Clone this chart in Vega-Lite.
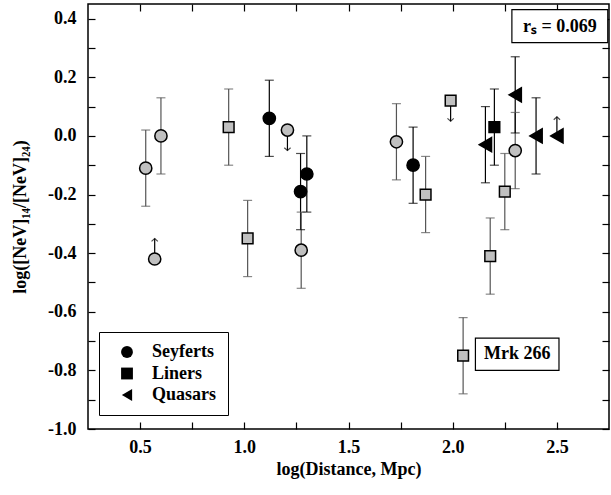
{
  "$schema": "https://vega.github.io/schema/vega-lite/v6.json",
  "width": 521,
  "height": 425,
  "autosize": {"type": "none"},
  "padding": {"left": 88, "top": 4, "right": 2, "bottom": 66},
  "background": "white",
  "config": {
    "view": {"stroke": "black", "strokeWidth": 1.5},
    "axis": {
      "grid": false, "domain": false, "tickColor": "black", "tickWidth": 1.2, "tickSize": -7,
      "labelFont": "Liberation Serif", "labelFontWeight": "bold", "labelFontSize": 18, "labelColor": "black",
      "titleFont": "Liberation Serif", "titleFontWeight": "bold", "titleFontSize": 18, "titleColor": "black"
    }
  },
  "data": {"values": [
    {"type": "Seyferts", "set": "open", "x": 0.527, "y": -0.11, "lo": -0.24, "hi": 0.02},
    {"type": "Seyferts", "set": "open", "x": 0.60, "y": 0.00, "lo": -0.13, "hi": 0.13},
    {"type": "Seyferts", "set": "filled", "x": 1.12, "y": 0.06, "lo": -0.07, "hi": 0.19},
    {"type": "Seyferts", "set": "open", "x": 1.207, "y": 0.02, "limit": "upper", "tip": -0.05},
    {"type": "Seyferts", "set": "filled", "x": 1.27, "y": -0.19, "lo": -0.32, "hi": -0.06},
    {"type": "Seyferts", "set": "filled", "x": 1.30, "y": -0.13, "lo": -0.26, "hi": 0.00},
    {"type": "Seyferts", "set": "open", "x": 0.57, "y": -0.42, "limit": "lower", "tip": -0.35},
    {"type": "Seyferts", "set": "open", "x": 1.273, "y": -0.39, "lo": -0.52, "hi": -0.26},
    {"type": "Seyferts", "set": "open", "x": 1.73, "y": -0.02, "lo": -0.15, "hi": 0.11},
    {"type": "Seyferts", "set": "filled", "x": 1.81, "y": -0.10, "lo": -0.23, "hi": 0.03},
    {"type": "Seyferts", "set": "open", "x": 2.30, "y": -0.05, "lo": -0.18, "hi": 0.08},
    {"type": "Liners", "set": "open", "x": 0.925, "y": 0.03, "lo": -0.10, "hi": 0.16},
    {"type": "Liners", "set": "open", "x": 1.016, "y": -0.35, "lo": -0.48, "hi": -0.22},
    {"type": "Liners", "set": "open", "x": 1.87, "y": -0.20, "lo": -0.33, "hi": -0.07},
    {"type": "Liners", "set": "open", "x": 1.99, "y": 0.12, "limit": "upper", "tip": 0.05},
    {"type": "Liners", "set": "filled", "x": 2.20, "y": 0.03, "lo": -0.10, "hi": 0.16},
    {"type": "Liners", "set": "open", "x": 2.25, "y": -0.19, "lo": -0.32, "hi": -0.06},
    {"type": "Liners", "set": "open", "x": 2.18, "y": -0.41, "lo": -0.54, "hi": -0.28},
    {"type": "Liners", "set": "open", "x": 2.05, "y": -0.75, "lo": -0.88, "hi": -0.62},
    {"type": "Quasars", "set": "filled", "x": 2.157, "y": -0.03, "lo": -0.16, "hi": 0.10},
    {"type": "Quasars", "set": "filled", "x": 2.30, "y": 0.14, "lo": 0.01, "hi": 0.27},
    {"type": "Quasars", "set": "filled", "x": 2.40, "y": 0.00, "lo": -0.13, "hi": 0.13},
    {"type": "Quasars", "set": "filled", "x": 2.50, "y": 0.00, "limit": "lower", "tip": 0.065}
  ]},
  "layer": [
    {
      "transform": [{"filter": "isValid(datum.lo)"}],
      "mark": {"type": "rule", "strokeWidth": 1.2},
      "encoding": {
        "x": {"field": "x", "type": "quantitative",
          "scale": {"domain": [0.25, 2.75], "nice": false, "zero": false},
          "axis": {"orient": "bottom", "values": [0.5, 0.75, 1, 1.25, 1.5, 1.75, 2, 2.25, 2.5],
            "labelExpr": "datum.value % 0.5 == 0 ? format(datum.value, '.1f') : ''",
            "labelPadding": 16, "title": "log(Distance, Mpc)", "titlePadding": 4}},
        "y": {"field": "lo", "type": "quantitative",
          "scale": {"domain": [-1, 0.45], "nice": false, "zero": false},
          "axis": {"orient": "left", "values": [-1, -0.9, -0.8, -0.7, -0.6, -0.5, -0.4, -0.3, -0.2, -0.1, 0, 0.1, 0.2, 0.3, 0.4],
            "labelExpr": "round(datum.value * 10) % 2 == 0 ? replace(format(datum.value, '.1f'), '−', '-') : ''",
            "labelPadding": 19, "title": "log([NeV]₁₄/[NeV]₂₄)", "titlePadding": 18}},
        "y2": {"field": "hi"},
        "color": {"field": "set", "type": "nominal", "scale": {"domain": ["open", "filled"], "range": ["#555555", "#000000"]}, "legend": null}
      }
    },
    {
      "transform": [{"filter": "isValid(datum.lo)"}],
      "mark": {"type": "tick", "orient": "horizontal", "size": 9, "thickness": 1.2},
      "encoding": {
        "x": {"field": "x", "type": "quantitative", "axis": null},
        "y": {"field": "lo", "type": "quantitative", "axis": null},
        "color": {"field": "set", "type": "nominal", "legend": null}
      }
    },
    {
      "transform": [{"filter": "isValid(datum.hi)"}],
      "mark": {"type": "tick", "orient": "horizontal", "size": 9, "thickness": 1.2},
      "encoding": {
        "x": {"field": "x", "type": "quantitative", "axis": null},
        "y": {"field": "hi", "type": "quantitative", "axis": null},
        "color": {"field": "set", "type": "nominal", "legend": null}
      }
    },
    {
      "transform": [{"filter": "isValid(datum.limit)"}],
      "mark": {"type": "rule", "strokeWidth": 1.2, "color": "black"},
      "encoding": {
        "x": {"field": "x", "type": "quantitative", "axis": null},
        "y": {"field": "y", "type": "quantitative", "axis": null},
        "y2": {"field": "tip"}
      }
    },
    {
      "transform": [{"filter": "datum.limit == 'upper'"}],
      "mark": {"type": "point", "filled": false, "stroke": "black", "strokeWidth": 1.2, "size": 40, "shape": "M-1,-0.9L0,0L1,-0.9"},
      "encoding": {
        "x": {"field": "x", "type": "quantitative", "axis": null},
        "y": {"field": "tip", "type": "quantitative", "axis": null}
      }
    },
    {
      "transform": [{"filter": "datum.limit == 'lower'"}],
      "mark": {"type": "point", "filled": false, "stroke": "black", "strokeWidth": 1.2, "size": 40, "shape": "M-1,0.9L0,0L1,0.9"},
      "encoding": {
        "x": {"field": "x", "type": "quantitative", "axis": null},
        "y": {"field": "tip", "type": "quantitative", "axis": null}
      }
    },
    {
      "transform": [{"filter": "datum.type == 'Seyferts'"}],
      "mark": {"type": "point", "filled": true, "stroke": "black", "strokeWidth": 1.5, "opacity": 1, "size": 150},
      "encoding": {
        "x": {"field": "x", "type": "quantitative",
          "axis": {"orient": "top", "values": [0.5, 0.75, 1, 1.25, 1.5, 1.75, 2, 2.25, 2.5], "labels": false, "title": null}},
        "y": {"field": "y", "type": "quantitative",
          "axis": {"orient": "right", "values": [-1, -0.9, -0.8, -0.7, -0.6, -0.5, -0.4, -0.3, -0.2, -0.1, 0, 0.1, 0.2, 0.3, 0.4], "labels": false, "title": null}},
        "shape": {"field": "type", "type": "nominal",
          "scale": {"domain": ["Seyferts", "Liners", "Quasars"], "range": ["circle", "square", "triangle-left"]},
          "legend": {"title": null, "orient": "none", "legendX": 11, "legendY": 328,
            "strokeColor": "black", "fillColor": "white", "padding": 11, "symbolOffset": 8,
            "symbolFillColor": "black", "symbolStrokeColor": "black", "symbolStrokeWidth": 0, "symbolSize": 140,
            "labelFont": "Liberation Serif", "labelFontWeight": "bold", "labelFontSize": 18, "labelColor": "black",
            "labelOffset": 16, "rowPadding": 3.5}},
        "fill": {"field": "set", "type": "nominal", "scale": {"domain": ["open", "filled"], "range": ["#c0c0c0", "#000000"]}, "legend": null}
      }
    },
    {
      "transform": [{"filter": "datum.type == 'Liners'"}],
      "mark": {"type": "point", "filled": true, "stroke": "black", "strokeWidth": 1.5, "opacity": 1, "size": 115},
      "encoding": {
        "x": {"field": "x", "type": "quantitative", "axis": null},
        "y": {"field": "y", "type": "quantitative", "axis": null},
        "shape": {"field": "type", "type": "nominal",
          "legend": {"title": null, "orient": "none", "legendX": 11, "legendY": 328,
            "strokeColor": "black", "fillColor": "white", "padding": 11, "symbolOffset": 8,
            "symbolFillColor": "black", "symbolStrokeColor": "black", "symbolStrokeWidth": 0, "symbolSize": 140,
            "labelFont": "Liberation Serif", "labelFontWeight": "bold", "labelFontSize": 18, "labelColor": "black",
            "labelOffset": 16, "rowPadding": 3.5}},
        "fill": {"field": "set", "type": "nominal", "legend": null}
      }
    },
    {
      "transform": [{"filter": "datum.type == 'Quasars'"}],
      "mark": {"type": "point", "filled": true, "stroke": "black", "strokeWidth": 1.5, "opacity": 1, "size": 200},
      "encoding": {
        "x": {"field": "x", "type": "quantitative", "axis": null},
        "y": {"field": "y", "type": "quantitative", "axis": null},
        "shape": {"field": "type", "type": "nominal",
          "legend": {"title": null, "orient": "none", "legendX": 11, "legendY": 328,
            "strokeColor": "black", "fillColor": "white", "padding": 11, "symbolOffset": 8,
            "symbolFillColor": "black", "symbolStrokeColor": "black", "symbolStrokeWidth": 0, "symbolSize": 140,
            "labelFont": "Liberation Serif", "labelFontWeight": "bold", "labelFontSize": 18, "labelColor": "black",
            "labelOffset": 16, "rowPadding": 3.5}},
        "fill": {"field": "set", "type": "nominal", "legend": null}
      }
    },
    {
      "data": {"values": [{"label": "Mrk 266"}]},
      "mark": {"type": "rect", "fill": "white", "stroke": "black", "strokeWidth": 1.2},
      "encoding": {
        "x": {"datum": 2.109, "type": "quantitative", "axis": null},
        "x2": {"datum": 2.51},
        "y": {"datum": -0.69, "type": "quantitative", "axis": null},
        "y2": {"datum": -0.80}
      }
    },
    {
      "data": {"values": [{"label": "Mrk 266"}]},
      "mark": {"type": "text", "font": "Liberation Serif", "fontWeight": "bold", "fontSize": 18, "color": "black", "align": "center", "baseline": "middle"},
      "encoding": {
        "x": {"datum": 2.31, "type": "quantitative", "axis": null},
        "y": {"datum": -0.745, "type": "quantitative", "axis": null},
        "text": {"field": "label"}
      }
    },
    {
      "data": {"values": [{"label": "rₛ = 0.069"}]},
      "mark": {"type": "rect", "fill": "white", "stroke": "black", "strokeWidth": 1.2},
      "encoding": {
        "x": {"datum": 2.284, "type": "quantitative", "axis": null},
        "x2": {"datum": 2.744},
        "y": {"datum": 0.431, "type": "quantitative", "axis": null},
        "y2": {"datum": 0.318}
      }
    },
    {
      "data": {"values": [{"label": "rₛ = 0.069"}]},
      "mark": {"type": "text", "font": "Liberation Serif", "fontWeight": "bold", "fontSize": 18, "color": "black", "align": "center", "baseline": "middle"},
      "encoding": {
        "x": {"datum": 2.514, "type": "quantitative", "axis": null},
        "y": {"datum": 0.373, "type": "quantitative", "axis": null},
        "text": {"field": "label"}
      }
    }
  ]
}
